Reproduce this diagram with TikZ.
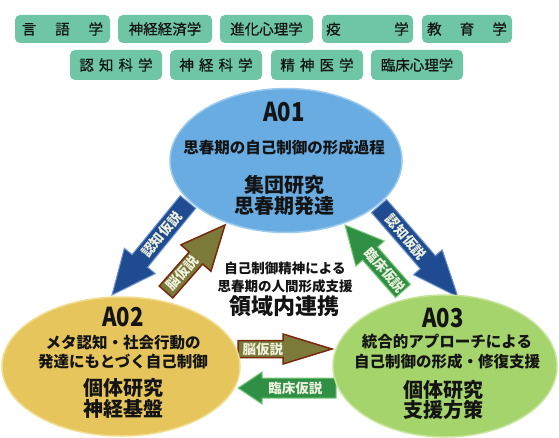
\documentclass[tikz,border=0pt]{standalone}
\usepackage{fontspec}
\setmainfont{Noto Sans CJK JP}
\newfontfamily\tagfont{Noto Sans CJK JP}[FakeBold=0.6]
\usetikzlibrary{calc,shapes.geometric}
\definecolor{tagc}{HTML}{6EC6A6}
\definecolor{blueE}{HTML}{68ACE2}
\definecolor{blueEd}{HTML}{9CCBEF}
\definecolor{goldE}{HTML}{E6C65C}
\definecolor{goldEd}{HTML}{F2DC8E}
\definecolor{greenE}{HTML}{A6D46C}
\definecolor{greenEd}{HTML}{C6E59A}
\definecolor{arrblue}{HTML}{1F4B90}
\definecolor{arrblueb}{HTML}{6F93D3}
\definecolor{arrolive}{HTML}{7B7A38}
\definecolor{arroliveb}{HTML}{7A2712}
\definecolor{arrgreen}{HTML}{2F8F45}
\definecolor{arrgreenb}{HTML}{7CCB7C}
\definecolor{lbl}{HTML}{EEF0DE}
\definecolor{ink}{HTML}{141414}
\tikzset{
  tagbox/.style={fill=tagc, rounded corners=5pt, minimum height=28pt, inner sep=0pt, text=ink, font=\tagfont\fontsize{14.5}{14.5}\selectfont},
  ellbox/.style={ellipse, inner sep=0pt},
  ttl/.style={font=\bfseries\fontsize{26}{26}\selectfont, text=ink, inner sep=0pt},
  sub/.style={font=\bfseries\fontsize{15.5}{16}\selectfont, text=ink, inner sep=0pt},
  big/.style={font=\bfseries\fontsize{20}{20}\selectfont, text=ink, inner sep=0pt},
  mid/.style={font=\bfseries\fontsize{13.5}{14}\selectfont, text=ink, inner sep=0pt},
  arrlabel/.style={font=\bfseries\fontsize{13.5}{13.5}\selectfont, text=lbl, inner sep=0pt},
  bluearr/.style={fill=arrblue, draw=arrblueb, line width=1pt, line join=miter},
  olivearr/.style={fill=arrolive, draw=arroliveb, line width=1.5pt, line join=miter},
  greenarr/.style={fill=arrgreen, draw=arrgreenb, line width=1pt, line join=miter},
}
% #1 tail, #2 tip, #3 shaft half width, #4 head half width, #5 head length, #6 style, #7 label, #8 prefix
\newcommand\blkarrow[8]{%
  \coordinate (#8h) at ($(#2)!#5!(#1)$);
  \draw[#6] ($(#1)!#3!90:(#2)$) -- ($(#8h)!#3!90:(#2)$) -- ($(#8h)!#4!90:(#2)$) -- (#2)
     -- ($(#8h)!#4!-90:(#2)$) -- ($(#8h)!#3!-90:(#2)$) -- ($(#1)!#3!-90:(#2)$) -- cycle;
  \path (#1) -- (#8h) node[pos=0.55, sloped, arrlabel] (#8l) {#7};
}
\begin{document}
\begin{tikzpicture}[x=1pt, y=-1pt]
\useasboundingbox (0,0) rectangle (559,438);
\fill[white] (0,0) rectangle (559,438);

% tags row 1
\node[tagbox, minimum width=95pt] (t1) at (62.5,29) {言\hspace{1.3em}語\hspace{1.3em}学};
\node[tagbox, minimum width=94pt] (t2) at (165,29) {神経経済学};
\node[tagbox, minimum width=93pt] (t3) at (266.5,29) {進化心理学};
\node[tagbox, minimum width=91pt] (t4) at (367.5,29) {疫\hspace{3.7em}学};
\node[tagbox, minimum width=90pt] (t5) at (467,29) {教\hspace{1.25em}育\hspace{1.25em}学};
% tags row 2
\node[tagbox, minimum width=92pt, minimum height=30pt] (t6) at (116,65) {認\hspace{0.35em}知\hspace{0.35em}科\hspace{0.35em}学};
\node[tagbox, minimum width=92pt, minimum height=30pt] (t7) at (216,65) {神\hspace{0.35em}経\hspace{0.35em}科\hspace{0.35em}学};
\node[tagbox, minimum width=92pt, minimum height=30pt] (t8) at (317,65) {精\hspace{0.35em}神\hspace{0.35em}医\hspace{0.35em}学};
\node[tagbox, minimum width=92pt, minimum height=30pt] (t9) at (417,65) {臨床心理学};

% arrows (behind ellipses)
\coordinate (b1s) at (188,202); \coordinate (b1t) at (112,295);
\coordinate (b2s) at (379,206); \coordinate (b2t) at (458,297);
\coordinate (o1s) at (166,292); \coordinate (o1t) at (225,225);
\coordinate (g1s) at (403,291); \coordinate (g1t) at (345,225);
\coordinate (o2s) at (238,349); \coordinate (o2t) at (332,349);
\coordinate (g2s) at (336,388); \coordinate (g2t) at (238,388);
\blkarrow{b1s}{b1t}{10pt}{20pt}{44pt}{bluearr}{認知仮説}{ab}
\blkarrow{b2s}{b2t}{10pt}{19pt}{46pt}{bluearr}{認知仮説}{ac}
\blkarrow{o1s}{o1t}{9pt}{20pt}{44pt}{olivearr}{脳仮説}{ad}
\blkarrow{g1s}{g1t}{10pt}{19pt}{38pt}{greenarr}{臨床仮説}{ae}
\blkarrow{o2s}{o2t}{8.5pt}{15pt}{49pt}{olivearr}{脳仮説}{af}
\blkarrow{g2s}{g2t}{10pt}{16pt}{24pt}{greenarr}{臨床仮説}{ag}

% ellipses
\node[ellbox, fill=blueE, draw=blueEd, line width=1.5pt, minimum width=232pt, minimum height=144pt] (a01) at (286,160.5) {};
\node[ellbox, fill=goldE, draw=goldEd, line width=1.5pt, minimum width=238pt, minimum height=139pt] (a02) at (121,366.5) {};
\node[ellbox, fill=greenE, draw=greenEd, line width=1.5pt, minimum width=224pt, minimum height=142pt] (a03) at (445,366) {};

% A01 text
\node[ttl] (a01a) at (284,112) {\scalebox{0.85}[1]{A01}};
\node[sub] (a01b) at (284,148) {思春期の自己制御の形成過程};
\node[big] (a01c) at (284,185) {集団研究};
\node[big] (a01d) at (284,206) {思春期発達};
% A02 text
\node[ttl] (a02a) at (123,317) {\scalebox{0.85}[1]{A02}};
\node[sub] (a02b) at (123,343) {メタ認知・社会行動の};
\node[sub] (a02c) at (123,362) {発達にもとづく自己制御};
\node[big] (a02d) at (123,388) {個体研究};
\node[big] (a02e) at (123,409) {神経基盤};
% A03 text
\node[ttl] (a03a) at (443,318) {\scalebox{0.85}[1]{A03}};
\node[sub] (a03b) at (447,342) {統合的アプローチによる};
\node[sub] (a03c) at (447,362) {自己制御の形成・修復支援};
\node[big] (a03d) at (443,390) {個体研究};
\node[big] (a03e) at (443,410) {支援方策};
% centre text
\node[mid] (c1) at (285,268) {自己制御精神による};
\node[mid] (c2) at (285,286) {思春期の人間形成支援};
\node[font=\bfseries\fontsize{22}{22}\selectfont, text=ink, inner sep=0pt] (c3) at (284,306) {領域内連携};
\end{tikzpicture}
\end{document}
